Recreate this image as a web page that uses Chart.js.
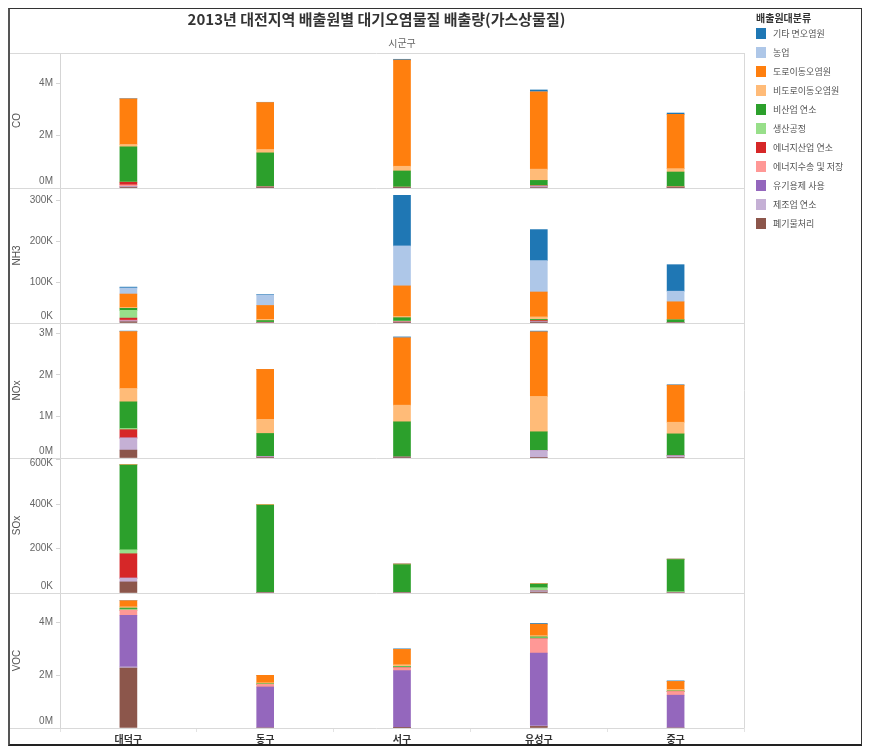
<!DOCTYPE html>
<html>
<head>
<meta charset="utf-8">
<script src="https://cdn.jsdelivr.net/npm/chart.js@4/dist/chart.umd.min.js"></script>
<style>
html,body{margin:0;padding:0;background:#fff;}
#wrap{position:relative;width:883px;height:749px;overflow:hidden;font-family:"Noto Sans CJK KR","Noto Sans",sans-serif;}
#cv{position:absolute;left:0;top:0;}
#frame{position:absolute;left:8px;top:8px;width:854px;height:738px;box-sizing:border-box;border:1px solid #333;border-left:2px solid #555;border-bottom:2px solid #222;pointer-events:none;}
#title{position:absolute;left:9px;width:735px;top:9px;text-align:center;font-size:15px;line-height:20px;font-weight:bold;color:#333;}
#colhead{position:absolute;left:60px;width:684px;top:36px;text-align:center;font-size:10px;line-height:14px;color:#666;}
#legtitle{position:absolute;left:756px;top:12px;font-size:10px;line-height:12px;font-weight:bold;color:#333;white-space:nowrap;}
.li{position:absolute;left:756px;height:11px;display:flex;align-items:center;}
.sw{display:inline-block;width:10px;height:11px;margin-right:7px;}
.lt{font-size:9px;line-height:11px;color:#555;white-space:nowrap;}
</style>
</head>
<body>
<div id="wrap">
  <canvas id="cv" width="883" height="749"></canvas>
  <div id="title">2013년 대전지역 배출원별 대기오염물질 배출량(가스상물질)</div>
  <div id="colhead">시군구</div>
  <div id="legtitle">배출원대분류</div>
  <div id="legend"></div>
  <div id="frame"></div>
</div>
<script>
// ---- data ----
const districts = ['대덕구', '동구', '서구', '유성구', '중구'];
const sources = ['기타 면오염원', '농업', '도로이동오염원', '비도로이동오염원', '비산업 연소', '생산공정',
                 '에너지산업 연소', '에너지수송 및 저장', '유기용제 사용', '제조업 연소', '폐기물처리'];
const colors = ['#1f77b4', '#aec7e8', '#ff7f0e', '#ffbb78', '#2ca02c', '#98df8a',
                '#d62728', '#ff9896', '#9467bd', '#c5b0d5', '#8c564b'];
const pollutants = ['CO', 'NH3', 'NOx', 'SOx', 'VOC'];

// rows: sources (legend order); columns: districts
const CO = [
  [0.01e6, 0.01e6, 0.03e6, 0.07e6, 0.05e6],
  [0, 0, 0, 0, 0],
  [1.74e6, 1.79e6, 4.05e6, 2.95e6, 2.07e6],
  [0.09e6, 0.13e6, 0.18e6, 0.43e6, 0.13e6],
  [1.34e6, 1.30e6, 0.61e6, 0.21e6, 0.56e6],
  [0.01e6, 0, 0.01e6, 0, 0.01e6],
  [0.10e6, 0, 0, 0, 0],
  [0.06e6, 0.01e6, 0.01e6, 0.03e6, 0.02e6],
  [0, 0, 0, 0, 0],
  [0.03e6, 0.02e6, 0.01e6, 0.03e6, 0.01e6],
  [0.03e6, 0.01e6, 0.01e6, 0.02e6, 0.01e6]
];
const NH3 = [
  [2e3, 1e3, 124e3, 76e3, 65e3],
  [15e3, 26e3, 98e3, 77e3, 26e3],
  [33e3, 34e3, 75e3, 61e3, 43e3],
  [2e3, 3e3, 3e3, 6e3, 1e3],
  [5e3, 4e3, 8e3, 2e3, 7e3],
  [19e3, 1e3, 2e3, 1e3, 1e3],
  [5e3, 0, 0, 2e3, 0],
  [2e3, 1e3, 1e3, 1e3, 0],
  [0, 0, 0, 0, 0],
  [2e3, 0, 1e3, 1e3, 0],
  [3e3, 0, 1e3, 2e3, 0]
];
const NOx = [
  [0.01e6, 0, 0.02e6, 0.02e6, 0.01e6],
  [0, 0, 0, 0, 0],
  [1.37e6, 1.20e6, 1.62e6, 1.55e6, 0.89e6],
  [0.32e6, 0.34e6, 0.40e6, 0.85e6, 0.28e6],
  [0.64e6, 0.56e6, 0.85e6, 0.45e6, 0.53e6],
  [0.03e6, 0, 0, 0, 0],
  [0.20e6, 0, 0, 0, 0],
  [0, 0, 0, 0, 0],
  [0, 0, 0, 0, 0],
  [0.29e6, 0.02e6, 0.01e6, 0.17e6, 0.04e6],
  [0.19e6, 0.01e6, 0.01e6, 0.01e6, 0.01e6]
];
const SOx = [
  [0, 0, 0, 0, 0],
  [0, 0, 0, 0, 0],
  [1e3, 1e3, 2e3, 1e3, 1e3],
  [1e3, 2e3, 1e3, 1e3, 1e3],
  [382e3, 396e3, 127e3, 16e3, 145e3],
  [18e3, 1e3, 1e3, 15e3, 6e3],
  [110e3, 0, 0, 0, 0],
  [0, 0, 0, 0, 0],
  [0, 0, 0, 0, 0],
  [17e3, 0, 0, 5e3, 0],
  [50e3, 0, 0, 4e3, 0]
];
const VOC = [
  [0, 0, 0.02e6, 0.03e6, 0.02e6],
  [0, 0, 0, 0, 0],
  [0.23e6, 0.28e6, 0.58e6, 0.43e6, 0.30e6],
  [0.05e6, 0.04e6, 0.06e6, 0.05e6, 0.06e6],
  [0.04e6, 0.01e6, 0.02e6, 0.03e6, 0.01e6],
  [0.04e6, 0.01e6, 0.03e6, 0.04e6, 0.01e6],
  [0, 0, 0, 0, 0],
  [0.19e6, 0.10e6, 0.11e6, 0.54e6, 0.14e6],
  [1.95e6, 1.55e6, 2.16e6, 2.75e6, 1.24e6],
  [0.05e6, 0, 0, 0.02e6, 0],
  [2.26e6, 0, 0.01e6, 0.06e6, 0]
];
const values = [CO, NH3, NOx, SOx, VOC];

const axisMax = [5.15e6, 331e3, 3.245e6, 609e3, 5.1e6];
const tickValues = [
  [0, 2e6, 4e6],
  [0, 100e3, 200e3, 300e3],
  [0, 1e6, 2e6, 3e6],
  [0, 200e3, 400e3, 600e3],
  [0, 2e6, 4e6]
];
const tickLabels = [
  ['0M', '2M', '4M'],
  ['0K', '100K', '200K', '300K'],
  ['0M', '1M', '2M', '3M'],
  ['0K', '200K', '400K', '600K'],
  ['0M', '2M', '4M']
];

// ---- legend ----
const leg = document.getElementById('legend');
sources.forEach((s, i) => {
  const d = document.createElement('div');
  d.className = 'li';
  d.style.top = (28 + 18.95 * i) + 'px';
  const sw = document.createElement('span');
  sw.className = 'sw';
  sw.style.background = colors[i];
  const t = document.createElement('span');
  t.className = 'lt';
  t.textContent = s;
  d.appendChild(sw); d.appendChild(t);
  leg.appendChild(d);
});

// ---- datasets ----
const datasets = [];
pollutants.forEach((p, pi) => {
  for (let si = sources.length - 1; si >= 0; si--) {
    datasets.push({
      label: sources[si],
      data: values[pi][si],
      backgroundColor: colors[si],
      borderWidth: 0,
      yAxisID: 'y' + p,
      stack: 'all',
      barThickness: 17
    });
  }
});

const KR = '"Noto Sans CJK KR", "Noto Sans", sans-serif';
const scales = {
  x: {
    type: 'category',
    labels: districts,
    stacked: true,
    position: 'bottom',
    offset: true,
    grid: { offset: true, drawOnChartArea: false, tickLength: 4, color: '#e3e3e3' },
    border: { display: false },
    ticks: { font: { family: KR, size: 10, weight: 'bold' }, color: '#333', padding: 1, maxRotation: 0, autoSkip: false },
    afterFit: s => { s.height = 17; }
  }
};
pollutants.forEach((p, i) => {
  scales['y' + p] = {
    type: 'linear',
    position: 'left',
    stack: 'panels',
    stackWeight: 1,
    weight: 5 - i,
    stacked: true,
    min: 0,
    max: axisMax[i],
    afterBuildTicks: s => { s.ticks = tickValues[i].map(v => ({ value: v })); },
    afterFit: s => { s.width = 51; },
    ticks: { display: false },
    grid: { drawOnChartArea: false, tickLength: 4, color: '#d5d5d5' },
    border: { color: '#d5d5d5' },
    title: { display: true, text: p, font: { family: '"Liberation Sans", Arial, sans-serif', size: 10 }, color: '#555', padding: { top: 2, bottom: 0 } }
  };
});

const panelPlugin = {
  id: 'panels',
  afterDraw(chart) {
    const ctx = chart.ctx, ca = chart.chartArea;
    ctx.save();
    ctx.strokeStyle = '#d9d9d9';
    ctx.lineWidth = 1;
    const ys = [ca.top];
    pollutants.forEach(p => ys.push(chart.scales['y' + p].bottom));
    ys.forEach(y => {
      const yy = Math.round(y) + 0.5;
      ctx.beginPath(); ctx.moveTo(9, yy); ctx.lineTo(ca.right, yy); ctx.stroke();
    });
    ctx.beginPath();
    ctx.moveTo(Math.round(ca.right) + 0.5, ca.top);
    ctx.lineTo(Math.round(ca.right) + 0.5, ca.bottom);
    ctx.stroke();
    ctx.fillStyle = '#666';
    ctx.font = '10px "Liberation Sans", Arial, sans-serif';
    ctx.textAlign = 'right';
    ctx.textBaseline = 'middle';
    pollutants.forEach((p, i) => {
      const s = chart.scales['y' + p];
      tickValues[i].forEach((v, j) => {
        let y = s.getPixelForValue(v);
        y = Math.min(Math.max(y, s.top + 5), s.bottom - 7);
        ctx.fillText(tickLabels[i][j], 53, y);
      });
    });
    ctx.restore();
  }
};

new Chart(document.getElementById('cv'), {
  type: 'bar',
  data: { labels: districts, datasets },
  options: {
    responsive: false,
    animation: false,
    devicePixelRatio: 1,
    layout: { padding: { left: 9, right: 139, top: 53, bottom: 4 } },
    plugins: { legend: { display: false }, tooltip: { enabled: false }, title: { display: false } },
    scales
  },
  plugins: [panelPlugin]
});
</script>
</body>
</html>
